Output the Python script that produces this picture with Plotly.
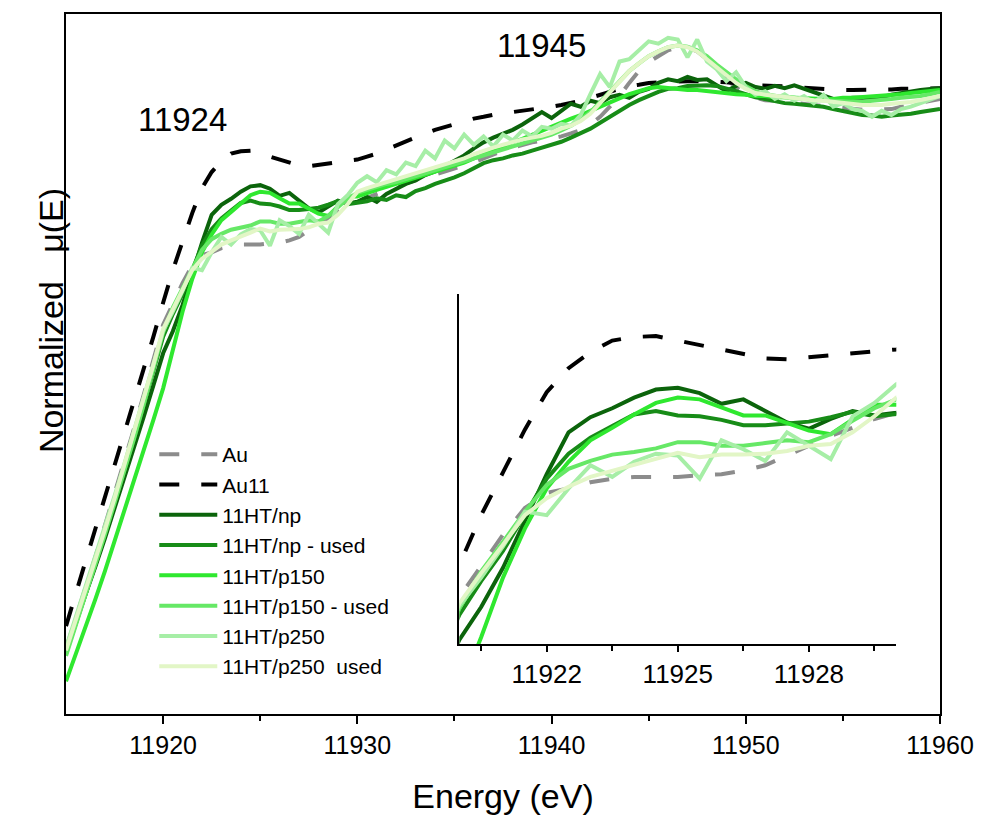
import plotly.graph_objects as go

# Energy grid (eV)
energy = [11915.0, 11915.5, 11916.0, 11916.5, 11917.0, 11917.5, 11918.0, 11918.5, 11919.0, 11919.5, 11920.0,
          11920.5, 11921.0, 11921.5, 11922.0, 11922.5, 11923.0, 11923.5, 11924.0, 11924.5, 11925.0,
          11925.5, 11926.0, 11926.5, 11927.0, 11927.5, 11928.0, 11928.5, 11929.0, 11929.5, 11930.0,
          11930.5, 11931.0, 11931.5, 11932.0, 11932.5, 11933.0, 11933.5, 11934.0, 11934.5, 11935.0,
          11935.5, 11936.0, 11936.5, 11937.0, 11937.5, 11938.0, 11938.5, 11939.0, 11939.5, 11940.0,
          11940.5, 11941.0, 11941.5, 11942.0, 11942.5, 11943.0, 11943.5, 11944.0, 11944.5, 11945.0,
          11945.5, 11946.0, 11946.5, 11947.0, 11947.5, 11948.0, 11948.5, 11949.0, 11949.5, 11950.0,
          11950.5, 11951.0, 11951.5, 11952.0, 11952.5, 11953.0, 11953.5, 11954.0, 11954.5, 11955.0,
          11955.5, 11956.0, 11956.5, 11957.0, 11957.5, 11958.0, 11958.5, 11959.0, 11959.5, 11960.0]

mu_Au = [0.110, 0.160, 0.212, 0.263, 0.317, 0.370, 0.425, 0.480, 0.537, 0.595, 0.655,
         0.690, 0.725, 0.755, 0.772, 0.777, 0.784, 0.788, 0.790, 0.790, 0.790,
         0.792, 0.793, 0.797, 0.803, 0.814, 0.825, 0.836, 0.845, 0.855, 0.862,
         0.868, 0.875, 0.882, 0.888, 0.893, 0.898, 0.903, 0.908, 0.913, 0.918,
         0.923, 0.928, 0.935, 0.942, 0.948, 0.953, 0.958, 0.962, 0.965, 0.968,
         0.972, 0.977, 0.983, 0.992, 1.005, 1.022, 1.040, 1.062, 1.082, 1.097,
         1.108, 1.117, 1.122, 1.122, 1.115, 1.102, 1.085, 1.068, 1.055, 1.043,
         1.037, 1.033, 1.032, 1.030, 1.028, 1.027, 1.025, 1.023, 1.022, 1.020,
         1.018, 1.017, 1.017, 1.017, 1.018, 1.022, 1.025, 1.028, 1.032, 1.035]

mu_Au11 = [0.148, 0.202, 0.255, 0.308, 0.362, 0.415, 0.468, 0.523, 0.578, 0.635, 0.692,
           0.747, 0.795, 0.843, 0.885, 0.912, 0.930, 0.943, 0.947, 0.948, 0.943,
           0.938, 0.933, 0.927, 0.923, 0.922, 0.924, 0.926, 0.928, 0.931, 0.933,
           0.938, 0.943, 0.950, 0.957, 0.963, 0.970, 0.977, 0.983, 0.988, 0.993,
           0.998, 1.002, 1.005, 1.008, 1.012, 1.013, 1.015, 1.018, 1.020, 1.022,
           1.025, 1.028, 1.032, 1.037, 1.042, 1.047, 1.052, 1.057, 1.059, 1.062,
           1.063, 1.064, 1.065, 1.065, 1.065, 1.065, 1.064, 1.063, 1.062, 1.060,
           1.058, 1.058, 1.057, 1.056, 1.055, 1.054, 1.053, 1.052, 1.050, 1.050,
           1.050, 1.050, 1.050, 1.050, 1.051, 1.052, 1.052, 1.053, 1.053, 1.053]

mu_np = [0.108, 0.153, 0.200, 0.247, 0.295, 0.345, 0.395, 0.447, 0.500, 0.553, 0.607,
         0.644, 0.688, 0.740, 0.793, 0.840, 0.857, 0.867, 0.879, 0.888, 0.890,
         0.884, 0.872, 0.877, 0.864, 0.851, 0.844, 0.855, 0.864, 0.859, 0.862,
         0.870, 0.862, 0.875, 0.883, 0.892, 0.898, 0.907, 0.913, 0.922, 0.930,
         0.940, 0.952, 0.962, 0.970, 0.977, 0.983, 0.992, 1.002, 1.013, 1.003,
         1.015, 1.027, 1.022, 1.032, 1.028, 1.038, 1.042, 1.037, 1.047, 1.052,
         1.062, 1.068, 1.065, 1.072, 1.067, 1.068, 1.058, 1.048, 1.057, 1.062,
         1.055, 1.052, 1.057, 1.053, 1.058, 1.052, 1.047, 1.040, 1.035, 1.035,
         1.037, 1.037, 1.038, 1.038, 1.042, 1.045, 1.047, 1.050, 1.052, 1.053]

mu_np_used = [0.102, 0.150, 0.200, 0.250, 0.302, 0.355, 0.408, 0.463, 0.520, 0.577, 0.635,
              0.673, 0.707, 0.747, 0.788, 0.816, 0.834, 0.847, 0.860, 0.864, 0.859,
              0.858, 0.854, 0.848, 0.848, 0.850, 0.852, 0.857, 0.863, 0.858, 0.860,
              0.863, 0.868, 0.865, 0.873, 0.870, 0.880, 0.885, 0.892, 0.897, 0.903,
              0.910, 0.918, 0.927, 0.932, 0.935, 0.940, 0.943, 0.948, 0.953, 0.958,
              0.963, 0.970, 0.977, 0.985, 0.995, 1.005, 1.015, 1.025, 1.033, 1.040,
              1.047, 1.052, 1.053, 1.057, 1.058, 1.058, 1.057, 1.053, 1.048, 1.043,
              1.038, 1.035, 1.032, 1.028, 1.027, 1.025, 1.023, 1.022, 1.018, 1.015,
              1.012, 1.008, 1.007, 1.005, 1.007, 1.008, 1.010, 1.013, 1.015, 1.018]

mu_p150 = [0.055, 0.100, 0.145, 0.192, 0.240, 0.290, 0.340, 0.392, 0.443, 0.495, 0.548,
           0.610, 0.677, 0.732, 0.777, 0.807, 0.831, 0.845, 0.860, 0.873, 0.879,
           0.877, 0.868, 0.859, 0.859, 0.851, 0.842, 0.838, 0.855, 0.871, 0.871,
           0.877, 0.882, 0.887, 0.892, 0.897, 0.902, 0.907, 0.912, 0.917, 0.922,
           0.928, 0.935, 0.942, 0.948, 0.955, 0.962, 0.968, 0.975, 0.982, 0.988,
           0.995, 1.002, 1.008, 1.015, 1.022, 1.030, 1.037, 1.043, 1.048, 1.053,
           1.055, 1.053, 1.052, 1.050, 1.050, 1.048, 1.047, 1.045, 1.043, 1.042,
           1.040, 1.040, 1.038, 1.038, 1.037, 1.037, 1.035, 1.035, 1.035, 1.037,
           1.037, 1.038, 1.040, 1.040, 1.042, 1.043, 1.045, 1.047, 1.048, 1.050]

mu_p150_used = [0.098, 0.148, 0.198, 0.250, 0.302, 0.355, 0.408, 0.463, 0.520, 0.580, 0.642,
                0.684, 0.717, 0.751, 0.781, 0.799, 0.808, 0.815, 0.818, 0.822, 0.829,
                0.829, 0.825, 0.825, 0.828, 0.831, 0.829, 0.838, 0.853, 0.867, 0.877,
                0.882, 0.887, 0.892, 0.895, 0.900, 0.905, 0.910, 0.915, 0.920, 0.925,
                0.930, 0.935, 0.940, 0.945, 0.950, 0.955, 0.960, 0.965, 0.970, 0.975,
                0.982, 0.990, 1.000, 1.013, 1.030, 1.048, 1.065, 1.082, 1.095, 1.107,
                1.115, 1.122, 1.125, 1.123, 1.117, 1.107, 1.093, 1.080, 1.068, 1.057,
                1.048, 1.043, 1.040, 1.038, 1.037, 1.035, 1.033, 1.033, 1.032, 1.032,
                1.030, 1.030, 1.032, 1.033, 1.035, 1.037, 1.038, 1.040, 1.043, 1.047]

mu_p250 = [0.112, 0.162, 0.212, 0.262, 0.313, 0.367, 0.420, 0.475, 0.532, 0.588, 0.645,
           0.677, 0.712, 0.751, 0.747, 0.777, 0.803, 0.790, 0.807, 0.816, 0.814,
           0.788, 0.831, 0.821, 0.808, 0.840, 0.825, 0.810, 0.858, 0.873, 0.894,
           0.905, 0.895, 0.915, 0.908, 0.928, 0.922, 0.948, 0.935, 0.965, 0.952,
           0.975, 0.958, 0.972, 0.955, 0.975, 0.965, 0.982, 0.972, 0.988, 0.985,
           0.993, 0.990, 1.008, 1.043, 1.077, 1.055, 1.098, 1.102, 1.118, 1.132,
           1.128, 1.138, 1.135, 1.105, 1.135, 1.098, 1.085, 1.065, 1.080, 1.055,
           1.042, 1.048, 1.035, 1.043, 1.032, 1.040, 1.028, 1.042, 1.022, 1.028,
           1.018, 1.015, 1.005, 1.015, 1.008, 1.018, 1.022, 1.028, 1.035, 1.040]

mu_p250_used = [0.107, 0.157, 0.207, 0.258, 0.310, 0.363, 0.418, 0.473, 0.530, 0.588, 0.648,
                0.682, 0.714, 0.747, 0.766, 0.779, 0.790, 0.797, 0.803, 0.810, 0.817,
                0.812, 0.815, 0.815, 0.816, 0.819, 0.825, 0.827, 0.840, 0.858, 0.879,
                0.885, 0.890, 0.895, 0.900, 0.905, 0.910, 0.915, 0.920, 0.925, 0.930,
                0.935, 0.942, 0.948, 0.953, 0.958, 0.963, 0.967, 0.970, 0.973, 0.978,
                0.985, 0.990, 0.998, 1.010, 1.028, 1.047, 1.065, 1.082, 1.095, 1.107,
                1.115, 1.122, 1.125, 1.122, 1.115, 1.102, 1.088, 1.075, 1.062, 1.052,
                1.045, 1.042, 1.040, 1.038, 1.037, 1.035, 1.033, 1.032, 1.030, 1.028,
                1.027, 1.025, 1.025, 1.025, 1.027, 1.028, 1.030, 1.033, 1.037, 1.040]

series_names = ["Au", "Au11", "11HT/np", "11HT/np - used", "11HT/p150",
                "11HT/p150 - used", "11HT/p250", "11HT/p250  used"]
series_values = [mu_Au, mu_Au11, mu_np, mu_np_used, mu_p150, mu_p150_used, mu_p250, mu_p250_used]
series_colors = ["#8c8c8c", "#000000", "#0b640b", "#178c17", "#2fe82f",
                 "#66e866", "#a6eea6", "#e2f6c6"]
series_dash = ["20px,22px", "20px,22px", "solid", "solid", "solid", "solid", "solid", "solid"]

main_ticks = [11920, 11930, 11940, 11950, 11960]
inset_ticks = [11922, 11925, 11928]
peak_labels = ["11924", "11945"]
peak_label_pos = [(11921.0, 1.0), (11939.5, 1.125)]

FONT = "Arial, Liberation Sans, sans-serif"

fig = go.Figure()
for name, vals, col, dash in zip(series_names, series_values, series_colors, series_dash):
    fig.add_trace(go.Scatter(x=energy, y=vals, mode="lines", name=name,
                             line=dict(color=col, width=4, dash=dash),
                             xaxis="x", yaxis="y"))
for name, vals, col, dash in zip(series_names, series_values, series_colors, series_dash):
    fig.add_trace(go.Scatter(x=energy, y=vals, mode="lines", name=name, showlegend=False,
                             line=dict(color=col, width=4, dash=dash),
                             xaxis="x2", yaxis="y2"))

for txt, (px, py) in zip(peak_labels, peak_label_pos):
    fig.add_annotation(x=px, y=py, xref="x", yref="y", text=txt, showarrow=False,
                       font=dict(family=FONT, size=33, color="black"))

fig.add_annotation(x=-0.041, y=0.5615, xref="paper", yref="paper",
                   text="Normalized\u00a0\u00a0\u00a0\u03bc(E)",
                   textangle=-90, showarrow=False, font=dict(family=FONT, size=34, color="black"))

fig.update_layout(
    width=986, height=821,
    margin=dict(l=66, r=40, t=14, b=100),
    paper_bgcolor="white", plot_bgcolor="white",
    font=dict(family=FONT, color="black"),
    showlegend=True,
    legend=dict(x=0.101, y=0.400, xanchor="left", yanchor="top", bgcolor="rgba(0,0,0,0)",
                font=dict(family=FONT, size=21, color="black"), itemwidth=58,
                tracegroupgap=0),
    xaxis=dict(domain=[0, 1], range=[11915, 11960], tickvals=main_ticks,
               ticktext=[str(t) for t in main_ticks], ticks="outside", ticklen=8, tickwidth=2,
               tickcolor="black", showline=True, linecolor="black", linewidth=2, mirror=True,
               showgrid=False, zeroline=False, tickfont=dict(family=FONT, size=25),
               minor=dict(tickvals=[11925, 11935, 11945, 11955], ticks="outside", ticklen=5,
                          tickwidth=2, tickcolor="black"),
               title=dict(text="Energy (eV)", font=dict(family=FONT, size=34), standoff=26)),
    yaxis=dict(domain=[0, 1], range=[0, 1.178], showticklabels=False, ticks="",
               showline=True, linecolor="black", linewidth=2, mirror=True,
               showgrid=False, zeroline=False),
    xaxis2=dict(domain=[0.45, 0.95], anchor="y2", range=[11920, 11930], tickvals=inset_ticks,
                ticktext=[str(t) for t in inset_ticks], ticks="outside", ticklen=6, tickwidth=1.5,
                tickcolor="black", showline=True, linecolor="black", linewidth=1.5,
                showgrid=False, zeroline=False, tickfont=dict(family=FONT, size=26),
                minor=dict(tickvals=[11920.5, 11923.5, 11926.5, 11929.5], ticks="outside",
                           ticklen=5, tickwidth=1.5, tickcolor="black")),
    yaxis2=dict(domain=[0.0994, 0.5997], anchor="x2", range=[0.602, 0.995],
                showticklabels=False, ticks="", showline=True, linecolor="black",
                linewidth=1.5, showgrid=False, zeroline=False),
)

fig.write_html("out.html")
